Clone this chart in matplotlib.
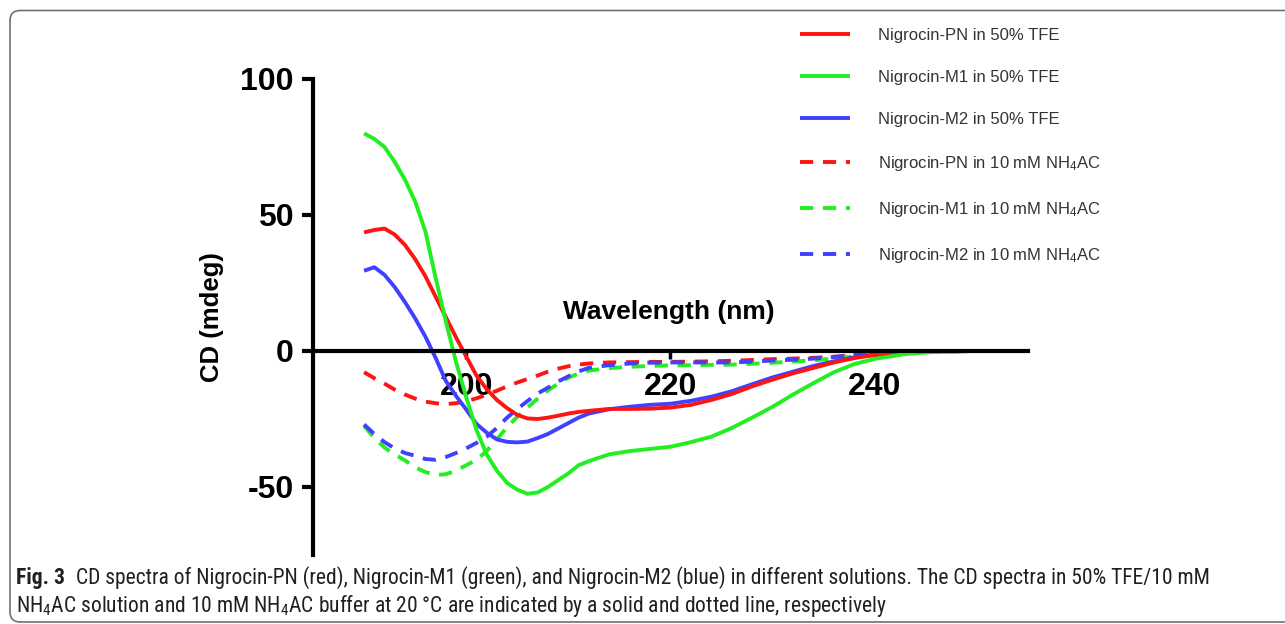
import numpy as np
import matplotlib
matplotlib.use("Agg")
import matplotlib.pyplot as plt
from matplotlib import font_manager
from matplotlib.patches import FancyBboxPatch
from matplotlib.transforms import IdentityTransform

# wavelength (nm) and CD signal (mdeg)
wavelength = [190, 191, 192, 193, 194, 195, 196, 197, 198, 199, 200, 201, 202,
              203, 204, 205, 206, 207, 208, 209, 210, 211, 212, 214, 216, 218,
              220, 222, 224, 226, 228, 230, 232, 234, 236, 238, 240, 243, 246,
              250]

pn_tfe = [43.6, 44.5, 45.0, 42.8, 39.0, 33.8, 27.5, 20.0, 12.5, 5.0, -2.0,
          -9.0, -14.0, -18.0, -21.0, -23.5, -24.8, -25.0, -24.5, -23.8, -23.0,
          -22.4, -22.0, -21.3, -21.3, -21.2, -20.8, -19.8, -18.0, -15.8, -13.0,
          -10.5, -8.2, -6.2, -4.2, -2.6, -1.5, -0.5, -0.1, 0.0]
m1_tfe = [80.0, 78.0, 75.0, 69.5, 63.0, 55.0, 44.0, 27.0, 11.0, -4.0, -17.0,
          -29.0, -38.0, -44.0, -48.5, -51.0, -52.5, -52.0, -50.0, -47.5, -45.0,
          -42.0, -40.5, -38.0, -36.8, -36.0, -35.2, -33.5, -31.5, -28.3, -24.5,
          -20.5, -16.0, -11.8, -7.8, -4.8, -2.9, -1.1, -0.3, 0.0]
m2_tfe = [29.5, 30.8, 28.0, 23.5, 18.0, 12.0, 5.3, -2.5, -11.0, -16.5, -21.5,
          -26.8, -30.0, -32.5, -33.4, -33.6, -33.3, -32.0, -30.5, -28.5, -26.5,
          -24.5, -23.0, -21.4, -20.5, -19.8, -19.4, -18.3, -16.8, -14.8, -12.2,
          -9.7, -7.6, -5.5, -3.8, -2.3, -1.3, -0.4, -0.1, 0.0]
pn_nh4 = [-7.8, -10.0, -12.0, -14.2, -16.0, -17.5, -18.6, -19.2, -19.5, -19.2,
          -18.5, -17.4, -16.1, -14.6, -13.0, -11.6, -10.3, -9.0, -7.6, -6.5,
          -5.6, -5.0, -4.6, -4.2, -4.1, -4.0, -4.0, -3.9, -3.8, -3.6, -3.3,
          -3.0, -2.8, -2.5, -2.1, -1.7, -1.3, -0.6, -0.2, 0.0]
m1_nh4 = [-27.5, -32.0, -35.5, -38.0, -40.2, -42.8, -44.5, -45.6, -45.3, -44.0,
          -42.0, -40.0, -36.8, -32.5, -28.0, -24.2, -20.8, -17.5, -14.5, -12.0,
          -9.8, -8.3, -7.2, -6.3, -5.8, -5.5, -5.3, -5.2, -5.1, -5.0, -4.7,
          -4.3, -3.9, -3.4, -2.8, -2.0, -1.1, -0.4, -0.1, 0.0]
m2_nh4 = [-27.0, -30.5, -33.5, -35.8, -37.5, -38.5, -39.7, -40.0, -39.0, -37.5,
          -35.8, -33.8, -31.5, -28.3, -24.5, -21.3, -18.4, -15.6, -13.5, -11.2,
          -9.3, -7.5, -6.2, -5.2, -4.6, -4.3, -4.2, -4.2, -4.2, -4.2, -3.9,
          -3.5, -3.2, -2.8, -2.2, -1.4, -0.7, -0.2, 0.0, 0.0]

series = [pn_tfe, m1_tfe, m2_tfe, pn_nh4, m1_nh4, m2_nh4]
labels = ["Nigrocin-PN in 50% TFE", "Nigrocin-M1 in 50% TFE",
          "Nigrocin-M2 in 50% TFE", "Nigrocin-PN in 10 mM NH$_4$AC",
          "Nigrocin-M1 in 10 mM NH$_4$AC", "Nigrocin-M2 in 10 mM NH$_4$AC"]
x_ticks = [200, 220, 240]
y_ticks = [-50, 0, 50, 100]

colors = ["#ff1414", "#22ee22", "#4040ff"] * 2
dashed = (0, (3.4, 2.5))
styles = ["-"] * 3 + [dashed] * 3

caption_bold = "Fig. 3"
caption_1 = ("CD spectra of Nigrocin-PN (red), Nigrocin-M1 (green), and Nigrocin-M2 "
             "(blue) in different solutions. The CD spectra in 50% TFE/10 mM")
caption_2 = ("NH$_4$AC solution and 10 mM NH$_4$AC buffer at 20 °C are indicated "
             "by a solid and dotted line, respectively")

plt.rcParams["font.family"] = ["Liberation Sans", "DejaVu Sans"]
plt.rcParams["mathtext.default"] = "regular"
plt.rcParams["axes.unicode_minus"] = False

W, H = 1285, 624
fig = plt.figure(figsize=(W / 100, H / 100), dpi=100)
ax = fig.add_axes([313 / W, 1 - 555 / H, 715 / W, 476 / H])

# draw order: solid lines over dashed ones
order = [3, 4, 5, 2, 0, 1]
handles = [None] * 6
for i in order:
    ln, = ax.plot(wavelength, series[i], color=colors[i], lw=2.8,
                  linestyle=styles[i], label=labels[i], solid_capstyle="butt",
                  solid_joinstyle="round", dash_joinstyle="round")
    handles[i] = ln

ax.set_xlim(185, 255)
ax.set_ylim(-75, 100)
ax.set_xticks(x_ticks)
ax.set_yticks(y_ticks)

ax.spines["top"].set_visible(False)
ax.spines["right"].set_visible(False)
ax.spines["bottom"].set_position(("data", 0))
for s in ("left", "bottom"):
    ax.spines[s].set_linewidth(3)
ax.tick_params(axis="x", direction="out", length=6, width=2.5, pad=9,
               labelsize=23)
ax.tick_params(axis="y", direction="out", length=8, width=3, pad=6,
               labelsize=23)
for lbl in ax.get_xticklabels() + ax.get_yticklabels():
    lbl.set_fontweight("bold")

ax.set_xlabel("Wavelength (nm)", fontsize=19, fontweight="bold", va="center")
ax.xaxis.set_label_coords(0.497, 0.51)
ax.set_ylabel("CD (mdeg)", fontsize=18.5, fontweight="bold", va="center")
ax.yaxis.set_label_coords(-0.141, 0.5)

ax.legend(handles, labels, loc="upper left",
          bbox_to_anchor=(800 / W, 1 - 28 / H), bbox_transform=fig.transFigure,
          frameon=False, fontsize=12, handlelength=3.0, handletextpad=1.7,
          labelspacing=1.62, borderpad=0, borderaxespad=0, labelcolor="#333333")

# rounded frame around the figure panel
frame = FancyBboxPatch((10, 2), 1300, 611.5, boxstyle="round,pad=0,rounding_size=10",
                       transform=IdentityTransform(), fill=False,
                       edgecolor="#707070", lw=1.2)
fig.patches.append(frame)

# caption, in a narrow face if one is available
names = {f.name for f in font_manager.fontManager.ttflist}
cap_font = "Noto Sans"
for cand in ["Liberation Sans Narrow", "Roboto Condensed", "Open Sans Condensed",
             "Noto Sans"]:
    if cand in names:
        cap_font = cand
        break

cap_size = 12.5
y1 = 40 / H
y2 = 12 / H
t_bold = fig.text(16 / W, y1, caption_bold, fontsize=cap_size, fontweight="bold",
                  family=cap_font, color="#231f20", va="baseline")
t_1 = fig.text(0, y1, caption_1, fontsize=cap_size, family=cap_font,
               color="#231f20", va="baseline")
t_2 = fig.text(16 / W, y2, caption_2, fontsize=cap_size, family=cap_font,
               color="#231f20", va="baseline")

fig.canvas.draw()
r = fig.canvas.get_renderer()
gap = 9
wb = t_bold.get_window_extent(r).width
w1 = t_1.get_window_extent(r).width
scale = (1218 - 16) / (wb + gap + w1)
cap_size = cap_size * scale
for t in (t_bold, t_1, t_2):
    t.set_fontsize(cap_size)
fig.canvas.draw()
wb = t_bold.get_window_extent(r).width
t_1.set_x((16 + wb + gap * scale) / W)

fig.savefig("out.png", dpi=100)
